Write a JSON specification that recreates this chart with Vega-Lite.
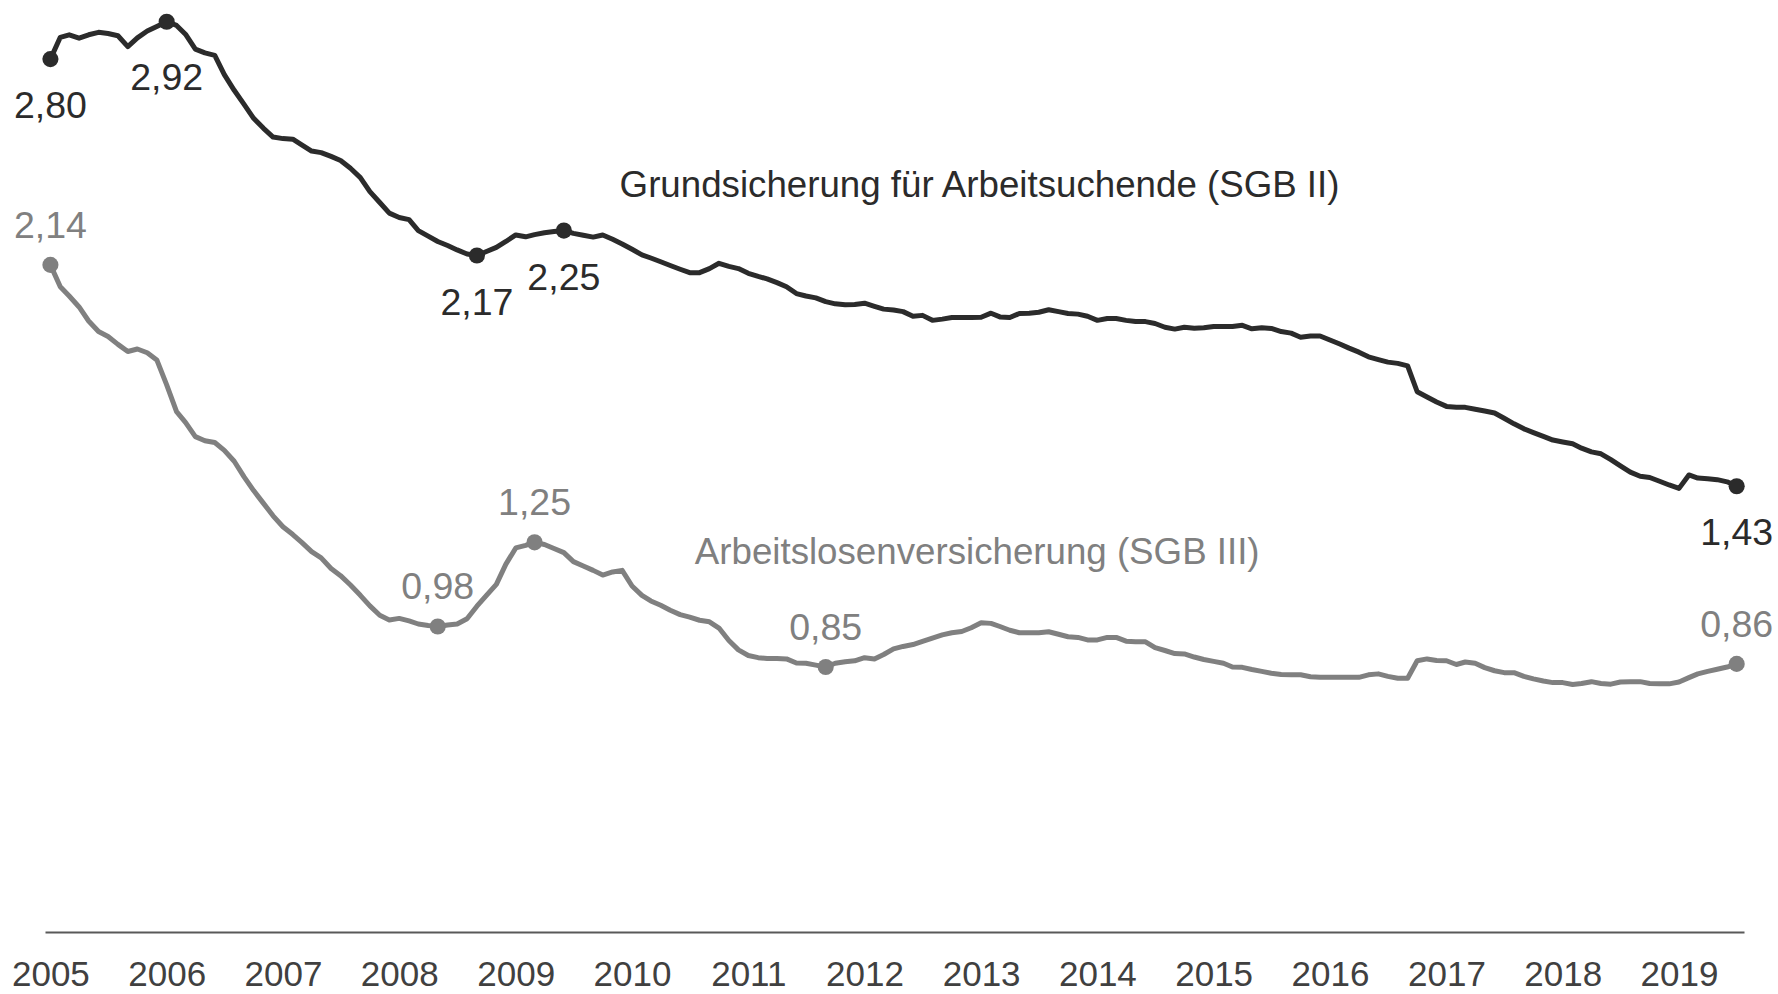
{
  "$schema": "https://vega.github.io/schema/vega-lite/v6.json",
  "width": 1699,
  "height": 929,
  "autosize": "none",
  "padding": {"left": 45, "right": 34, "top": 3, "bottom": 62},
  "background": "white",
  "config": {
    "view": {"stroke": null},
    "font": "Liberation Sans",
    "locale": {"number": {"decimal": ",", "thousands": ".", "grouping": [3], "currency": ["", " €"]}}
  },
  "datasets": {
    "series": [
      {"month":"2005/01/01","sgb2":2.80,"sgb3":2.14},{"month":"2005/02/01","sgb2":2.87,"sgb3":2.07},{"month":"2005/03/01","sgb2":2.878,"sgb3":2.04},{"month":"2005/04/01","sgb2":2.867,"sgb3":2.005},{"month":"2005/05/01","sgb2":2.878,"sgb3":1.96},{"month":"2005/06/01","sgb2":2.886,"sgb3":1.926},{"month":"2005/07/01","sgb2":2.882,"sgb3":1.91},{"month":"2005/08/01","sgb2":2.875,"sgb3":1.885},{"month":"2005/09/01","sgb2":2.84,"sgb3":1.862},{"month":"2005/10/01","sgb2":2.868,"sgb3":1.87},{"month":"2005/11/01","sgb2":2.89,"sgb3":1.858},{"month":"2005/12/01","sgb2":2.905,"sgb3":1.835},
      {"month":"2006/01/01","sgb2":2.92,"sgb3":1.755},{"month":"2006/02/01","sgb2":2.908,"sgb3":1.669},{"month":"2006/03/01","sgb2":2.88,"sgb3":1.635},{"month":"2006/04/01","sgb2":2.832,"sgb3":1.589},{"month":"2006/05/01","sgb2":2.82,"sgb3":1.576},{"month":"2006/06/01","sgb2":2.812,"sgb3":1.57},{"month":"2006/07/01","sgb2":2.75,"sgb3":1.545},{"month":"2006/08/01","sgb2":2.70,"sgb3":1.51},{"month":"2006/09/01","sgb2":2.655,"sgb3":1.46},{"month":"2006/10/01","sgb2":2.61,"sgb3":1.416},{"month":"2006/11/01","sgb2":2.578,"sgb3":1.375},{"month":"2006/12/01","sgb2":2.55,"sgb3":1.335},
      {"month":"2007/01/01","sgb2":2.545,"sgb3":1.30},{"month":"2007/02/01","sgb2":2.543,"sgb3":1.275},{"month":"2007/03/01","sgb2":2.525,"sgb3":1.25},{"month":"2007/04/01","sgb2":2.505,"sgb3":1.22},{"month":"2007/05/01","sgb2":2.50,"sgb3":1.20},{"month":"2007/06/01","sgb2":2.488,"sgb3":1.166},{"month":"2007/07/01","sgb2":2.475,"sgb3":1.143},{"month":"2007/08/01","sgb2":2.45,"sgb3":1.113},{"month":"2007/09/01","sgb2":2.42,"sgb3":1.08},{"month":"2007/10/01","sgb2":2.375,"sgb3":1.046},{"month":"2007/11/01","sgb2":2.34,"sgb3":1.016},{"month":"2007/12/01","sgb2":2.306,"sgb3":1.001},
      {"month":"2008/01/01","sgb2":2.292,"sgb3":1.006},{"month":"2008/02/01","sgb2":2.285,"sgb3":0.998},{"month":"2008/03/01","sgb2":2.25,"sgb3":0.988},{"month":"2008/04/01","sgb2":2.232,"sgb3":0.983},{"month":"2008/05/01","sgb2":2.215,"sgb3":0.98},{"month":"2008/06/01","sgb2":2.202,"sgb3":0.985},{"month":"2008/07/01","sgb2":2.188,"sgb3":0.988},{"month":"2008/08/01","sgb2":2.175,"sgb3":1.005},{"month":"2008/09/01","sgb2":2.17,"sgb3":1.045},{"month":"2008/10/01","sgb2":2.183,"sgb3":1.08},{"month":"2008/11/01","sgb2":2.196,"sgb3":1.115},{"month":"2008/12/01","sgb2":2.215,"sgb3":1.18},
      {"month":"2009/01/01","sgb2":2.236,"sgb3":1.232},{"month":"2009/02/01","sgb2":2.23,"sgb3":1.24},{"month":"2009/03/01","sgb2":2.237,"sgb3":1.25},{"month":"2009/04/01","sgb2":2.243,"sgb3":1.243},{"month":"2009/05/01","sgb2":2.247,"sgb3":1.23},{"month":"2009/06/01","sgb2":2.25,"sgb3":1.217},{"month":"2009/07/01","sgb2":2.241,"sgb3":1.188},{"month":"2009/08/01","sgb2":2.235,"sgb3":1.174},{"month":"2009/09/01","sgb2":2.229,"sgb3":1.16},{"month":"2009/10/01","sgb2":2.236,"sgb3":1.145},{"month":"2009/11/01","sgb2":2.222,"sgb3":1.155},{"month":"2009/12/01","sgb2":2.207,"sgb3":1.16},
      {"month":"2010/01/01","sgb2":2.19,"sgb3":1.11},{"month":"2010/02/01","sgb2":2.172,"sgb3":1.08},{"month":"2010/03/01","sgb2":2.162,"sgb3":1.062},{"month":"2010/04/01","sgb2":2.15,"sgb3":1.048},{"month":"2010/05/01","sgb2":2.138,"sgb3":1.032},{"month":"2010/06/01","sgb2":2.126,"sgb3":1.018},{"month":"2010/07/01","sgb2":2.115,"sgb3":1.01},{"month":"2010/08/01","sgb2":2.115,"sgb3":1.0},{"month":"2010/09/01","sgb2":2.128,"sgb3":0.995},{"month":"2010/10/01","sgb2":2.145,"sgb3":0.975},{"month":"2010/11/01","sgb2":2.135,"sgb3":0.935},{"month":"2010/12/01","sgb2":2.128,"sgb3":0.905},
      {"month":"2011/01/01","sgb2":2.113,"sgb3":0.887},{"month":"2011/02/01","sgb2":2.103,"sgb3":0.88},{"month":"2011/03/01","sgb2":2.095,"sgb3":0.877},{"month":"2011/04/01","sgb2":2.083,"sgb3":0.877},{"month":"2011/05/01","sgb2":2.07,"sgb3":0.876},{"month":"2011/06/01","sgb2":2.048,"sgb3":0.863},{"month":"2011/07/01","sgb2":2.04,"sgb3":0.862},{"month":"2011/08/01","sgb2":2.034,"sgb3":0.856},{"month":"2011/09/01","sgb2":2.022,"sgb3":0.85},{"month":"2011/10/01","sgb2":2.015,"sgb3":0.862},{"month":"2011/11/01","sgb2":2.012,"sgb3":0.867},{"month":"2011/12/01","sgb2":2.013,"sgb3":0.87},
      {"month":"2012/01/01","sgb2":2.017,"sgb3":0.88},{"month":"2012/02/01","sgb2":2.007,"sgb3":0.876},{"month":"2012/03/01","sgb2":1.998,"sgb3":0.89},{"month":"2012/04/01","sgb2":1.995,"sgb3":0.908},{"month":"2012/05/01","sgb2":1.99,"sgb3":0.916},{"month":"2012/06/01","sgb2":1.975,"sgb3":0.922},{"month":"2012/07/01","sgb2":1.978,"sgb3":0.932},{"month":"2012/08/01","sgb2":1.962,"sgb3":0.943},{"month":"2012/09/01","sgb2":1.966,"sgb3":0.953},{"month":"2012/10/01","sgb2":1.971,"sgb3":0.96},{"month":"2012/11/01","sgb2":1.971,"sgb3":0.964},{"month":"2012/12/01","sgb2":1.971,"sgb3":0.976},
      {"month":"2013/01/01","sgb2":1.972,"sgb3":0.992},{"month":"2013/02/01","sgb2":1.985,"sgb3":0.99},{"month":"2013/03/01","sgb2":1.973,"sgb3":0.98},{"month":"2013/04/01","sgb2":1.971,"sgb3":0.968},{"month":"2013/05/01","sgb2":1.984,"sgb3":0.96},{"month":"2013/06/01","sgb2":1.985,"sgb3":0.96},{"month":"2013/07/01","sgb2":1.988,"sgb3":0.96},{"month":"2013/08/01","sgb2":1.996,"sgb3":0.963},{"month":"2013/09/01","sgb2":1.99,"sgb3":0.955},{"month":"2013/10/01","sgb2":1.984,"sgb3":0.947},{"month":"2013/11/01","sgb2":1.982,"sgb3":0.945},{"month":"2013/12/01","sgb2":1.975,"sgb3":0.937},
      {"month":"2014/01/01","sgb2":1.962,"sgb3":0.937},{"month":"2014/02/01","sgb2":1.968,"sgb3":0.945},{"month":"2014/03/01","sgb2":1.968,"sgb3":0.945},{"month":"2014/04/01","sgb2":1.962,"sgb3":0.933},{"month":"2014/05/01","sgb2":1.958,"sgb3":0.931},{"month":"2014/06/01","sgb2":1.958,"sgb3":0.931},{"month":"2014/07/01","sgb2":1.952,"sgb3":0.912},{"month":"2014/08/01","sgb2":1.94,"sgb3":0.903},{"month":"2014/09/01","sgb2":1.934,"sgb3":0.893},{"month":"2014/10/01","sgb2":1.94,"sgb3":0.892},{"month":"2014/11/01","sgb2":1.937,"sgb3":0.882},{"month":"2014/12/01","sgb2":1.938,"sgb3":0.874},
      {"month":"2015/01/01","sgb2":1.942,"sgb3":0.868},{"month":"2015/02/01","sgb2":1.942,"sgb3":0.862},{"month":"2015/03/01","sgb2":1.942,"sgb3":0.85},{"month":"2015/04/01","sgb2":1.946,"sgb3":0.849},{"month":"2015/05/01","sgb2":1.935,"sgb3":0.842},{"month":"2015/06/01","sgb2":1.938,"sgb3":0.836},{"month":"2015/07/01","sgb2":1.936,"sgb3":0.83},{"month":"2015/08/01","sgb2":1.926,"sgb3":0.826},{"month":"2015/09/01","sgb2":1.921,"sgb3":0.825},{"month":"2015/10/01","sgb2":1.908,"sgb3":0.825},{"month":"2015/11/01","sgb2":1.912,"sgb3":0.819},{"month":"2015/12/01","sgb2":1.912,"sgb3":0.817},
      {"month":"2016/01/01","sgb2":1.899,"sgb3":0.817},{"month":"2016/02/01","sgb2":1.886,"sgb3":0.817},{"month":"2016/03/01","sgb2":1.873,"sgb3":0.817},{"month":"2016/04/01","sgb2":1.86,"sgb3":0.817},{"month":"2016/05/01","sgb2":1.845,"sgb3":0.825},{"month":"2016/06/01","sgb2":1.836,"sgb3":0.828},{"month":"2016/07/01","sgb2":1.828,"sgb3":0.82},{"month":"2016/08/01","sgb2":1.824,"sgb3":0.814},{"month":"2016/09/01","sgb2":1.816,"sgb3":0.814},{"month":"2016/10/01","sgb2":1.733,"sgb3":0.87},{"month":"2016/11/01","sgb2":1.716,"sgb3":0.876},{"month":"2016/12/01","sgb2":1.70,"sgb3":0.871},
      {"month":"2017/01/01","sgb2":1.686,"sgb3":0.87},{"month":"2017/02/01","sgb2":1.683,"sgb3":0.858},{"month":"2017/03/01","sgb2":1.683,"sgb3":0.866},{"month":"2017/04/01","sgb2":1.677,"sgb3":0.862},{"month":"2017/05/01","sgb2":1.671,"sgb3":0.848},{"month":"2017/06/01","sgb2":1.665,"sgb3":0.838},{"month":"2017/07/01","sgb2":1.648,"sgb3":0.832},{"month":"2017/08/01","sgb2":1.63,"sgb3":0.832},{"month":"2017/09/01","sgb2":1.614,"sgb3":0.82},{"month":"2017/10/01","sgb2":1.602,"sgb3":0.812},{"month":"2017/11/01","sgb2":1.59,"sgb3":0.805},{"month":"2017/12/01","sgb2":1.578,"sgb3":0.80},
      {"month":"2018/01/01","sgb2":1.572,"sgb3":0.80},{"month":"2018/02/01","sgb2":1.566,"sgb3":0.794},{"month":"2018/03/01","sgb2":1.552,"sgb3":0.797},{"month":"2018/04/01","sgb2":1.54,"sgb3":0.803},{"month":"2018/05/01","sgb2":1.534,"sgb3":0.797},{"month":"2018/06/01","sgb2":1.515,"sgb3":0.795},{"month":"2018/07/01","sgb2":1.495,"sgb3":0.802},{"month":"2018/08/01","sgb2":1.475,"sgb3":0.803},{"month":"2018/09/01","sgb2":1.462,"sgb3":0.803},{"month":"2018/10/01","sgb2":1.458,"sgb3":0.797},{"month":"2018/11/01","sgb2":1.446,"sgb3":0.796},{"month":"2018/12/01","sgb2":1.434,"sgb3":0.796},
      {"month":"2019/01/01","sgb2":1.423,"sgb3":0.802},{"month":"2019/02/01","sgb2":1.466,"sgb3":0.816},{"month":"2019/03/01","sgb2":1.456,"sgb3":0.828},{"month":"2019/04/01","sgb2":1.454,"sgb3":0.836},{"month":"2019/05/01","sgb2":1.451,"sgb3":0.843},{"month":"2019/06/01","sgb2":1.444,"sgb3":0.85},{"month":"2019/07/01","sgb2":1.43,"sgb3":0.86}
    ],
    "points": [
      {"month":"2005/01/01","series":"sgb2","value":2.80},
      {"month":"2006/01/01","series":"sgb2","value":2.92},
      {"month":"2008/09/01","series":"sgb2","value":2.17},
      {"month":"2009/06/01","series":"sgb2","value":2.25},
      {"month":"2019/07/01","series":"sgb2","value":1.43},
      {"month":"2005/01/01","series":"sgb3","value":2.14},
      {"month":"2008/05/01","series":"sgb3","value":0.98},
      {"month":"2009/03/01","series":"sgb3","value":1.25},
      {"month":"2011/09/01","series":"sgb3","value":0.85},
      {"month":"2019/07/01","series":"sgb3","value":0.86}
    ],
    "notes": [
      {"month":"2009/11/23","series":"sgb2","value":2.358,"text":"Grundsicherung für Arbeitsuchende (SGB II)"},
      {"month":"2010/07/17","series":"sgb3","value":1.181,"text":"Arbeitslosenversicherung (SGB III)"}
    ]
  },
  "encoding": {
    "x": {
      "field": "month",
      "type": "temporal",
      "scale": {"domain": [{"year": 2004, "month": 12, "date": 15}, {"year": 2019, "month": 7, "date": 24}]},
      "axis": {
        "title": null,
        "format": "%Y",
        "tickCount": {"interval": "year", "step": 1},
        "ticks": false,
        "tickSize": 0,
        "grid": false,
        "domainColor": "#595959",
        "domainWidth": 2,
        "labelFontSize": 35,
        "labelColor": "#404040",
        "labelFont": "Liberation Sans",
        "labelPadding": 53,
        "labelBaseline": "alphabetic",
        "labelFlush": false,
        "labelOverlap": false,
        "labelBound": false
      }
    },
    "y": {"field": "value", "type": "quantitative", "scale": {"domain": [0, 2.98]}, "axis": null},
    "color": {"field": "series", "type": "nominal", "scale": {"domain": ["sgb2", "sgb3"], "range": ["#2b2b2b", "#808080"]}, "legend": null}
  },
  "layer": [
    {
      "data": {"name": "series"},
      "transform": [{"fold": ["sgb2", "sgb3"], "as": ["series", "value"]}],
      "mark": {"type": "line", "strokeWidth": 5, "strokeJoin": "round", "strokeCap": "round"}
    },
    {
      "data": {"name": "points"},
      "mark": {"type": "circle", "size": 260, "opacity": 1}
    },
    {
      "data": {"name": "points"},
      "transform": [{"filter": "datum.series === 'sgb2' && datum.value !== 2.92"}],
      "mark": {"type": "text", "fontSize": 37.5, "baseline": "alphabetic", "align": "center", "dy": 59},
      "encoding": {"text": {"field": "value", "type": "quantitative", "format": ".2f"}}
    },
    {
      "data": {"name": "points"},
      "transform": [{"filter": "datum.series === 'sgb2' && datum.value === 2.92"}],
      "mark": {"type": "text", "fontSize": 37.5, "baseline": "alphabetic", "align": "center", "dy": 68},
      "encoding": {"text": {"field": "value", "type": "quantitative", "format": ".2f"}}
    },
    {
      "data": {"name": "points"},
      "transform": [{"filter": "datum.series === 'sgb3'"}],
      "mark": {"type": "text", "fontSize": 37.5, "baseline": "alphabetic", "align": "center", "dy": -27},
      "encoding": {"text": {"field": "value", "type": "quantitative", "format": ".2f"}}
    },
    {
      "data": {"name": "notes"},
      "mark": {"type": "text", "fontSize": 36.7, "baseline": "alphabetic", "align": "left"},
      "encoding": {"text": {"field": "text", "type": "nominal"}}
    }
  ]
}
